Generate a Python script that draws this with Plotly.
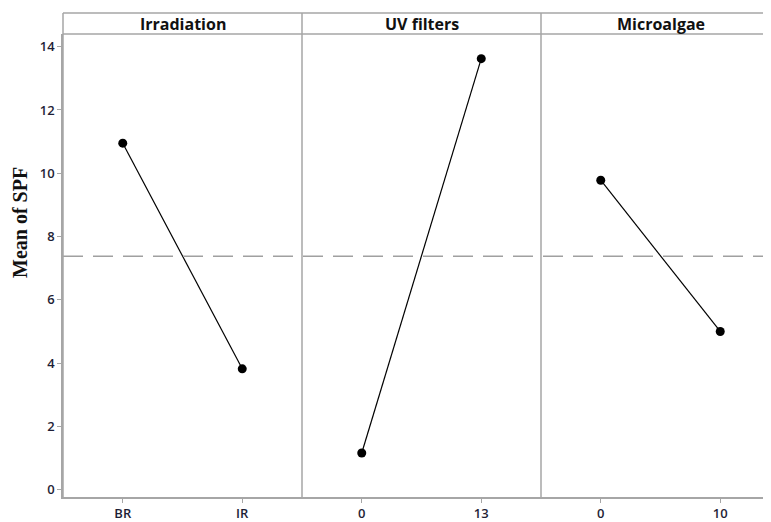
import plotly.graph_objects as go

factors = ["Irradiation", "UV filters", "Microalgae"]
levels = [["BR", "IR"], ["0", "13"], ["0", "10"]]
means = [[10.95, 3.82], [1.16, 13.62], [9.78, 5.0]]
grand_mean = 7.38
y_ticks = [0, 2, 4, 6, 8, 10, 12, 14]

# page body adds an 8px offset; margins compensate for it
W, H = 771, 522
ml, mr, mt, mb = 55, 8, 26, 33
pw = W - ml - mr
ph = H - mt - mb
panel_px = 239.0
unit_px = panel_px / 2.0

fig = go.Figure()
grey = "#a6a6a6"
tickfont = dict(family="Open Sans", size=13, color="#1e1e36", weight=600)

bounds = []
for i in range(3):
    x0 = i * panel_px
    x1 = min((i + 1) * panel_px, pw)
    bounds.append((x0 / pw, x1 / pw))
    xs = list(range(len(levels[i])))
    axn = "" if i == 0 else str(i + 1)
    fig.add_trace(go.Scatter(
        x=xs, y=means[i], mode="lines+markers",
        line=dict(color="black", width=1.2),
        marker=dict(color="black", size=9),
        xaxis="x" + axn, yaxis="y", showlegend=False, hoverinfo="skip"))
    rng_hi = -0.5 + (x1 - x0) / unit_px
    fig.update_layout(**{
        "xaxis" + axn: dict(
            domain=[x0 / pw, x1 / pw], range=[-0.5, rng_hi],
            tickvals=xs, ticktext=levels[i], showgrid=False, zeroline=False,
            showline=True, linecolor=grey, linewidth=1.5,
            ticks="outside", ticklen=4, tickcolor=grey, tickfont=tickfont,
            anchor="y", fixedrange=True, automargin=False)
    })
    fig.add_annotation(
        x=(x0 + panel_px / 2) / pw, y=1 + 10.5 / ph, xref="paper", yref="paper",
        text="<b>" + factors[i] + "</b>", showarrow=False,
        font=dict(family="Open Sans", size=16, color="#111111"),
        xanchor="center", yanchor="middle")

fig.add_annotation(
    x=(12 - ml) / pw, y=(H - mb - 215) / ph, xref="paper", yref="paper",
    text="<b>Mean of SPF</b>", showarrow=False, textangle=-90,
    font=dict(family="Liberation Serif", size=20, color="#111111"),
    xanchor="center", yanchor="middle")

fig.update_layout(
    width=W, height=H,
    margin=dict(l=ml, r=mr, t=mt, b=mb),
    paper_bgcolor="white", plot_bgcolor="white",
    yaxis=dict(
        range=[-0.23, 14.4], tickvals=y_ticks, showgrid=False, zeroline=False,
        showline=True, linecolor=grey, linewidth=1.5,
        ticks="outside", ticklen=4, tickcolor=grey, tickfont=tickfont,
        fixedrange=True, automargin=False),
    shapes=[
        dict(type="line", xref="paper", yref="y", x0=0, x1=1,
             y0=grand_mean, y1=grand_mean,
             line=dict(color="#a0a0a0", width=1.5, dash="20px,10px")),
        dict(type="line", xref="paper", yref="paper", x0=0, x1=1,
             y0=1 + 21 / ph, y1=1 + 21 / ph, line=dict(color=grey, width=1.5)),
        dict(type="line", xref="paper", yref="paper", x0=0, x1=1,
             y0=1, y1=1, line=dict(color=grey, width=1.5)),
        dict(type="line", xref="paper", yref="paper", x0=0, x1=0,
             y0=0, y1=1 + 21 / ph, line=dict(color=grey, width=1.5)),
    ] + [
        dict(type="line", xref="paper", yref="paper", x0=b[1], x1=b[1],
             y0=0, y1=1 + 21 / ph, line=dict(color=grey, width=1.5))
        for b in bounds[:2]
    ],
)

fig.write_html("out.html")
